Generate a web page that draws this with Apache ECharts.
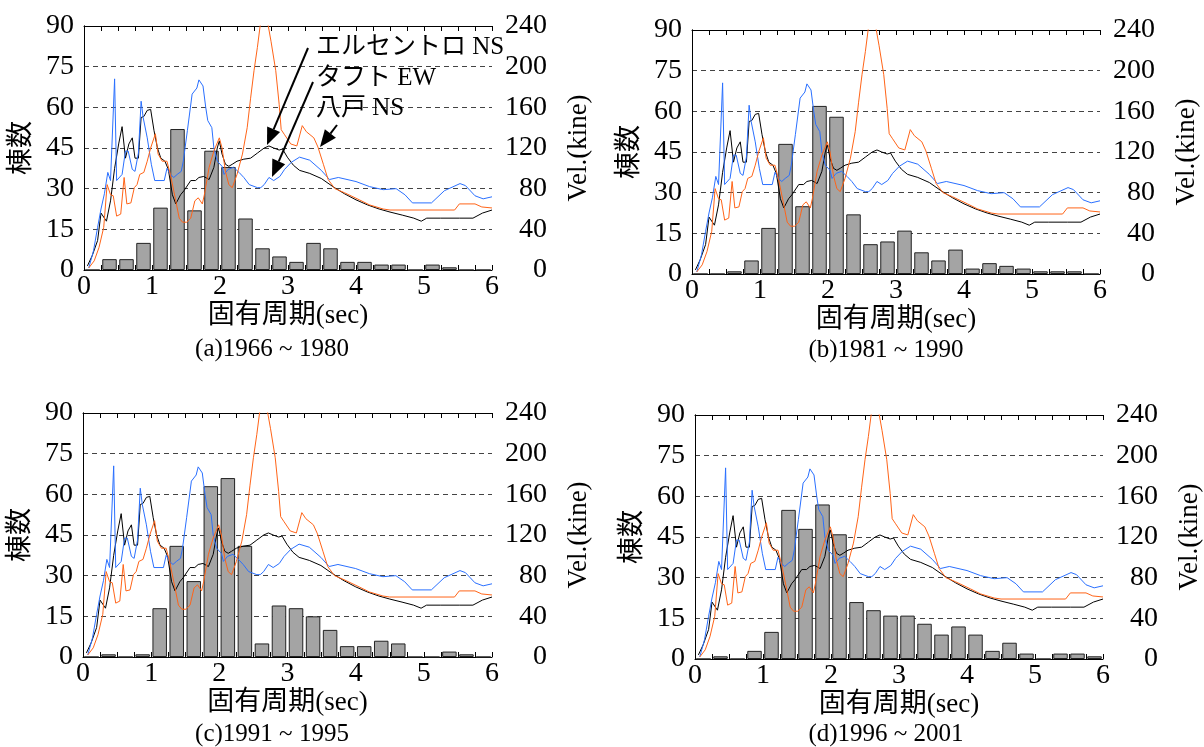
<!DOCTYPE html>
<html><head><meta charset="utf-8">
<script src="https://cdn.jsdelivr.net/npm/echarts@6/dist/echarts.min.js"></script>
<style>html,body{margin:0;padding:0;background:#fff}#c{width:1204px;height:747px}</style>
</head><body><div id="c"></div>
<script>
// ---- data ----
const periodBins = [0.125,0.375,0.625,0.875,1.125,1.375,1.625,1.875,2.125,2.375,2.625,2.875,
                    3.125,3.375,3.625,3.875,4.125,4.375,4.625,4.875,5.125,5.375,5.625,5.875];
const counts1966_1980 = [0,4,4,10,23,52,22,44,38,19,8,5,3,10,8,3,3,2,2,0,2,1,0,0];
const counts1981_1990 = [0,0,1,5,17,48,25,62,58,22,11,12,16,8,5,9,2,4,3,2,1,1,1,0];
const counts1991_1995 = [0,1,0,1,18,41,28,63,66,41,5,19,18,15,10,4,4,6,5,0,0,2,1,0];
const counts1996_2001 = [0,1,0,3,10,55,48,57,46,21,18,16,16,13,9,12,9,3,6,2,0,2,2,1];

const leftTicks = [0,15,30,45,60,75,90];
const rightTicks = [0,40,80,120,160,200,240];
const xTicks = [0,1,2,3,4,5,6];

// velocity response spectra [period(sec), velocity(kine)]
const elCentroNS = [[0.05,4],[0.12,14],[0.2,29],[0.25,56],[0.33,48],[0.39,68],[0.45,100],[0.51,124],[0.56,141],
 [0.61,110],[0.66,124],[0.71,130],[0.75,110],[0.8,110],[0.84,150],[0.88,151],[0.93,157],[0.98,158],[1.03,137],
 [1.08,120],[1.13,110],[1.19,107],[1.24,99],[1.3,74],[1.35,65],[1.42,74],[1.47,78],[1.57,88],[1.64,88],[1.69,91],
 [1.76,92],[1.84,89],[1.91,101],[1.96,120],[1.99,127],[2.03,114],[2.08,104],[2.13,102],[2.18,104],[2.25,107],
 [2.35,109],[2.45,110],[2.55,115],[2.65,120],[2.72,122],[2.79,120],[2.87,118],[2.92,119],[2.99,111],[3.08,103],
 [3.17,98],[3.32,95],[3.49,90],[3.66,82],[3.83,75],[4.0,69],[4.17,64],[4.34,60],[4.5,57],[4.68,54],[4.85,51],
 [4.96,48],[5.04,51],[5.24,51],[5.52,51],[5.72,51],[5.86,56],[6.0,59]];
const taftEW = [[0.07,2],[0.14,19],[0.2,42],[0.25,60],[0.3,75],[0.35,96],[0.39,88],[0.45,188],[0.48,88],[0.56,94],
 [0.61,117],[0.65,117],[0.71,99],[0.75,97],[0.8,115],[0.84,166],[0.87,150],[0.93,130],[0.99,104],[1.04,88],[1.18,88],
 [1.22,100],[1.27,94],[1.32,91],[1.37,94],[1.43,97],[1.46,107],[1.52,137],[1.59,173],[1.66,179],[1.69,187],[1.75,181],
 [1.79,160],[1.82,147],[1.88,140],[1.91,120],[1.96,107],[2.03,102],[2.06,94],[2.12,99],[2.2,101],[2.28,96],[2.35,91],
 [2.43,84],[2.55,81],[2.6,81],[2.65,84],[2.72,91],[2.79,88],[2.88,92],[2.95,99],[3.05,106],[3.17,111],[3.32,108],
 [3.49,98],[3.61,89],[3.74,91],[4.0,87],[4.2,82],[4.4,79],[4.59,80],[4.72,74],[4.83,66],[5.11,66],[5.3,78],[5.53,85],
 [5.61,83],[5.75,73],[5.87,70],[6.0,72]];
const hachinoheNS = [[0.07,2],[0.15,9],[0.22,22],[0.29,42],[0.34,84],[0.39,74],[0.43,73],[0.48,53],[0.54,55],[0.59,91],
 [0.63,65],[0.69,66],[0.74,81],[0.78,84],[0.82,94],[0.88,96],[0.93,107],[0.98,120],[1.05,134],[1.09,114],[1.15,107],
 [1.22,107],[1.27,94],[1.35,68],[1.4,51],[1.45,47],[1.51,47],[1.57,51],[1.63,68],[1.68,71],[1.74,65],[1.77,74],
 [1.84,101],[1.91,117],[1.99,130],[2.03,120],[2.08,97],[2.13,84],[2.18,81],[2.25,94],[2.33,114],[2.4,140],[2.45,169],
 [2.5,196],[2.55,219],[2.59,240],[2.63,255],[2.67,255],[2.75,225],[2.82,196],[2.87,163],[2.9,138],[2.95,133],
 [3.04,124],[3.13,122],[3.21,142],[3.27,136],[3.38,130],[3.44,121],[3.52,104],[3.59,89],[3.69,80],[3.83,76],
 [4.05,69],[4.2,64],[4.4,60],[4.5,59],[5.45,59],[5.52,65],[5.75,65],[5.85,62],[6.0,61]];

const captions = ['(a)1966 ~ 1980','(b)1981 ~ 1990','(c)1991 ~ 1995','(d)1996 ~ 2001'];
const countSets = [counts1966_1980, counts1981_1990, counts1991_1995, counts1996_2001];
const curveNames = ['エルセントロ NS','タフト EW','八戸 NS'];
const curves = [elCentroNS, taftEW, hachinoheNS];

// ---- layout / style ----
const FONT = 'Liberation Serif, Noto Sans CJK JP, serif';
const curveColors = ['#000000','#2a70ff','#ff6418'];
const grids = [
  {left:84, top:26, width:408, height:244},
  {left:692, top:30, width:408, height:244},
  {left:83, top:413, width:409, height:244},
  {left:695, top:415, width:408, height:244}
];
const captionPos = [[272,349],[886,350],[272,734],[886,734]];
const tickRich = {t:{fontFamily:FONT, fontSize:28, color:'#000'}};

const xAxes = [], yAxes = [], series = [], graphics = [];
grids.forEach((g, i) => {
  const base = {min:0, max:6, interval:0.25, gridIndex:i,
    axisLine:{show:true, onZero:false, lineStyle:{color:'#000', width:1}},
    axisTick:{show:true, inside:true, length:5, lineStyle:{color:'#000'}},
    splitLine:{show:false}};
  xAxes.push(Object.assign({}, base, {type:'value', position:'bottom',
    name:'固有周期(sec)', nameLocation:'middle', nameGap:32,
    nameTextStyle:{fontFamily:FONT, fontSize:27, color:'#000'},
    axisLabel:{show:true, margin:3, fontFamily:FONT, fontSize:28, color:'#000', rich:tickRich,
      formatter: v => xTicks.indexOf(v) >= 0 ? '{t|' + v + '}' : ''}}));
  xAxes.push(Object.assign({}, base, {type:'value', position:'top', axisLabel:{show:false}}));
  yAxes.push({type:'value', gridIndex:i, position:'left', min:0, max:90, interval:15,
    name:'棟数', nameLocation:'middle', nameGap:49,
    nameTextStyle:{fontFamily:FONT, fontSize:27, color:'#000'},
    axisLine:{show:true, lineStyle:{color:'#000'}}, axisTick:{show:false},
    axisLabel:{margin:10, fontFamily:FONT, fontSize:28, color:'#000', rich:tickRich,
      formatter: v => leftTicks.indexOf(v) >= 0 ? '{t|' + v + '}' : ''},
    splitLine:{show:true, lineStyle:{color:'#444', width:1, type:[5,4]}}});
  yAxes.push({type:'value', gridIndex:i, position:'right', min:0, max:240, interval:40,
    name:'Vel.(kine)', nameLocation:'middle', nameGap:73,
    nameTextStyle:{fontFamily:FONT, fontSize:27, color:'#000'},
    axisLine:{show:true, lineStyle:{color:'#000'}}, axisTick:{show:false},
    axisLabel:{margin:55, align:'right', fontFamily:FONT, fontSize:28, color:'#000', rich:tickRich,
      formatter: v => rightTicks.indexOf(v) >= 0 ? '{t|' + v + '}' : ''},
    splitLine:{show:false}});
  series.push({type:'bar', name:'棟数', xAxisIndex:2*i, yAxisIndex:2*i, barWidth:14.5,
    data: periodBins.map((p, j) => [p, countSets[i][j]]),
    itemStyle:{color:'#a4a4a4', borderColor:'#222', borderWidth:1}, z:2});
  curves.forEach((c, k) => {
    series.push({type:'line', name:curveNames[k], xAxisIndex:2*i, yAxisIndex:2*i+1, data:c,
      showSymbol:false, clip:true, lineStyle:{color:curveColors[k], width:1}, z:3+k});
  });
  graphics.push({type:'text', x:captionPos[i][0], y:captionPos[i][1],
    style:{text:captions[i], fontFamily:FONT, fontSize:25, fill:'#000', textAlign:'center', textVerticalAlign:'middle'}});
});

// annotation (panel a)
[[curveNames[0],316,47],[curveNames[1],316,78],[curveNames[2],316,108]].forEach(t => {
  graphics.push({type:'text', x:t[1], y:t[2], z:10,
    style:{text:t[0], fontFamily:FONT, fontSize:25, fill:'#000', textAlign:'left', textVerticalAlign:'middle'}});
});
function arrow(x1,y1,x2,y2){
  const dx=x2-x1, dy=y2-y1, L=Math.hypot(dx,dy), ux=dx/L, uy=dy/L, hl=17, hw=7;
  const bx=x2-ux*hl, by=y2-uy*hl;
  graphics.push({type:'line', z:10, shape:{x1:x1,y1:y1,x2:bx,y2:by}, style:{stroke:'#000', lineWidth:2}});
  graphics.push({type:'polygon', z:10, shape:{points:[[x2,y2],[bx-uy*hw,by+ux*hw],[bx+uy*hw,by-ux*hw]]}, style:{fill:'#000'}});
}
arrow(308,48,267,145);
arrow(313,82,272,177);
arrow(337,125,320,147);

const chart = echarts.init(document.getElementById('c'), null, {renderer:'canvas'});
chart.setOption({
  animation:false,
  backgroundColor:'#fff',
  textStyle:{fontFamily:FONT},
  grid: grids.map(g => Object.assign({containLabel:false}, g)),
  xAxis: xAxes, yAxis: yAxes, series: series, graphic: graphics
});
</script></body></html>
